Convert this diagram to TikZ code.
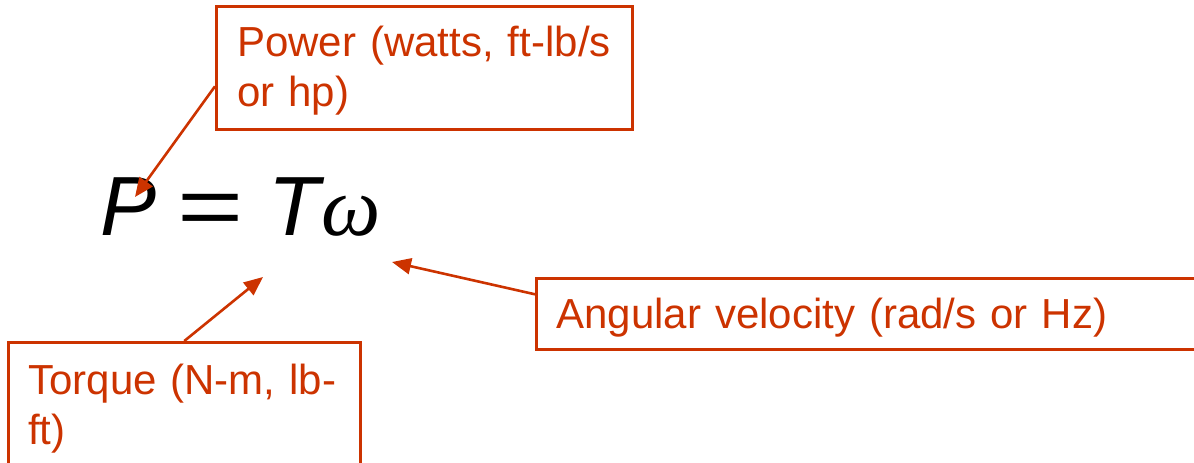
\documentclass[tikz,border=0pt]{standalone}
\usepackage{fontspec}
\setmainfont{Liberation Sans}
\newfontfamily\eqserif{Liberation Serif}
\usetikzlibrary{arrows.meta}
\definecolor{callout}{RGB}{204,51,0}
\tikzset{
  callout box/.style={draw=callout, line width=2.6pt, text=callout,
    anchor=north west, inner ysep=0pt, align=left,
    font=\fontsize{42}{50}\selectfont},
  callout arrow/.style={draw=callout, line width=2.6pt,
    -{Triangle[length=19pt,width=16pt]}},
  glyph/.style={anchor=base west, inner sep=0pt,
    font=\fontsize{84}{84}\selectfont},
}
\begin{document}
\begin{tikzpicture}[x=1pt,y=-1pt]
\useasboundingbox (0,0) rectangle (1194,463);
\clip (0,0) rectangle (1194,463);

% the formula P = T omega
\node[glyph] (P)  at (100,235) {\itshape P};
\node[glyph] (eq) at (177,235) {\scalebox{1.35}[1]{=}};
\node[glyph] (T)  at (268,235) {\itshape T};
\node[glyph] (w)  at (321,235) {\eqserif\itshape ω};

% callout boxes
\node[callout box, inner xsep=21pt, text width=374pt,
      text height=50pt, text depth=73pt] (power) at (215,5)
  {Power (watts, ft-lb/s\\or hp)};
\node[callout box, inner xsep=20pt, text width=312pt,
      text height=52pt, text depth=87pt] (torque) at (7,341)
  {Torque (N-m, lb-\\ft)};
\node[callout box, inner xsep=20pt, text width=635pt,
      text height=50pt, text depth=21pt] (omega) at (535,277)
  {Angular velocity (rad/s or Hz)};

% where each callout points
\coordinate (tipP) at (135,197);
\coordinate (tipT) at (263,277);
\coordinate (tipW) at (392,262);

\draw[callout arrow] ([yshift=-18.5pt]power.west) -- (tipP);
\draw[callout arrow] (torque.north) -- (tipT);
\draw[callout arrow] ([yshift=19.5pt]omega.west) -- (tipW);
\end{tikzpicture}
\end{document}
